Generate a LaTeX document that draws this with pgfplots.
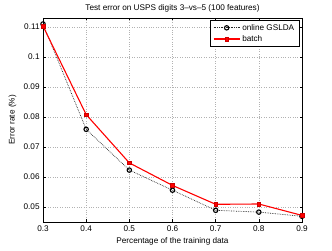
\documentclass[border=0pt]{standalone}
\usepackage{pgfplots}
\pgfplotsset{compat=1.18}
\usepackage{fontspec}
\setmainfont{Liberation Sans}
\newcommand{\fs}{\fontsize{8.2}{9.5}\selectfont}
\begin{document}
\fs
\begin{tikzpicture}
\begin{axis}[
  scale only axis,
  width=259pt, height=204pt,
  xmin=0.3, xmax=0.9, ymin=0.045, ymax=0.113,
  xtick={0.3,0.4,...,0.9},
  ytick={0.05,0.06,...,0.11},
  yticklabels={0.05,0.06,0.07,0.08,0.09,0.1,0.11},
  xticklabels={0.3,0.4,0.5,0.6,0.7,0.8,0.9},
  tick align=inside, ticks=both,
  tick style={black, line width=0.4pt},
  major tick length=2.5pt,
  grid=major,
  grid style={dotted, gray!60, line width=0.4pt},
  axis line style={black, line width=0.5pt},
  title={Test error on USPS digits 3--vs--5 (100 features)},
  every axis title/.style={at={(axis description cs:0.5,1.049)}, anchor=center, font=\fs},
  xlabel={Percentage of the training data},
  ylabel={Error rate (\%)},
  every axis x label/.style={at={(axis description cs:0.5,-0.093)}, anchor=center, font=\fs},
  every axis y label/.style={at={(axis description cs:-0.118,0.5)}, anchor=center, rotate=90, font=\fs},
  ticklabel style={font=\fs},
  xticklabel style={yshift=-0.5pt},
  yticklabel style={xshift=-0.5pt},
  /pgf/number format/assume math mode=true,
  legend style={at={(0.99,0.99)}, anchor=north east, draw=black, line width=0.4pt, font=\fs, inner xsep=3pt, inner ysep=2pt, row sep=0pt},
  legend cell align=left,
  legend image code/.code={\draw[mark repeat=2,mark phase=2,#1] plot coordinates {(0pt,0pt)(13pt,0pt)(26pt,0pt)};},
]
\addplot[black!85, densely dotted, line width=0.7pt, mark=o, mark size=2.2pt, mark options={solid, black, line width=1.1pt}]
coordinates {(0.3,0.1110) (0.4,0.0759) (0.5,0.0623) (0.6,0.0556) (0.7,0.0489) (0.8,0.0483) (0.9,0.0469)};
\addlegendentry{online GSLDA}
\addplot[red, line width=1.1pt, mark=square*, mark size=1.8pt, mark options={solid, fill=red, draw=red!80!black, line width=0.5pt}]
coordinates {(0.3,0.1103) (0.4,0.0808) (0.5,0.0647) (0.6,0.0572) (0.7,0.0509) (0.8,0.0510) (0.9,0.0472)};
\addlegendentry{batch}
\end{axis}
\pgfresetboundingbox
\path (current axis.south west) ++(-43pt,-28pt) rectangle ([xshift=30pt,yshift=18pt]current axis.north east);
\end{tikzpicture}
\end{document}
